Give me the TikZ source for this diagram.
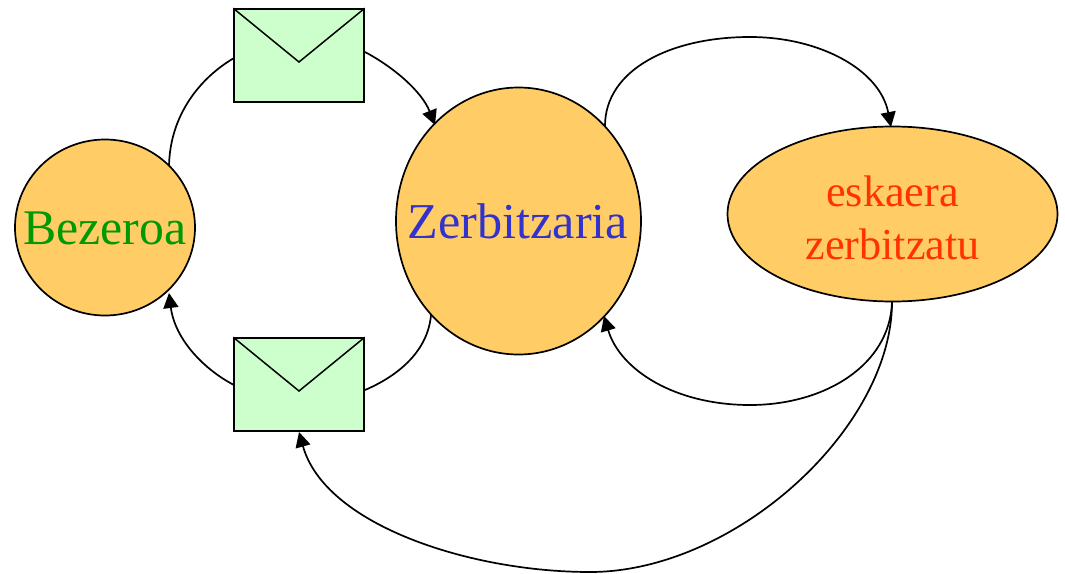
\documentclass[tikz,border=0pt]{standalone}
\usepackage{fontspec}
\setmainfont{Liberation Serif}
\usetikzlibrary{shapes.geometric,arrows.meta}
\definecolor{orangefill}{HTML}{FFCC66}
\definecolor{greenfill}{HTML}{CCFFCC}
\definecolor{greentxt}{HTML}{009900}
\definecolor{bluetxt}{HTML}{3333CC}
\definecolor{redtxt}{HTML}{FF3300}
\tikzset{
 x=1pt,y=-1pt,
 proc/.style={ellipse,draw=black,fill=orangefill,line width=1.7pt,inner sep=0pt,align=center},
 env/.style={rectangle,draw=black,fill=greenfill,line width=1.5pt,minimum width=130pt,minimum height=93pt,inner sep=0pt},
 flap/.style={draw=black,line width=1.5pt},
 conn/.style={draw=black,line width=1.7pt,-{Triangle[length=15pt,width=15pt]}},
 plain/.style={draw=black,line width=1.7pt}
}
\begin{document}
\begin{tikzpicture}
\useasboundingbox (0,0) rectangle (1065,573);
\coordinate (a1) at (169,166);
\coordinate (a2) at (234,58);
\coordinate (b1) at (365,52);
\coordinate (b2) at (435,125);
\coordinate (c1) at (431,315);
\coordinate (c2) at (365,390);
\coordinate (d1) at (234,385);
\coordinate (d2) at (169,293);
\coordinate (e1) at (605,126);
\coordinate (e2) at (891,127);
\coordinate (f1) at (892,302);
\coordinate (f2) at (604,316);
\coordinate (g2) at (299,432);
\draw[plain] (a1) .. controls (170,115) and (200,78) .. (a2);
\draw[conn] (b1) .. controls (395,68) and (422,92) .. (b2);
\draw[plain] (c1) .. controls (428,350) and (400,375) .. (c2);
\draw[conn] (d1) .. controls (205,370) and (175,340) .. (d2);
\draw[conn] (e1) .. controls (605,70) and (670,37) .. (750,37) .. controls (820,37) and (880,70) .. (e2);
\draw[conn] (f1) .. controls (890,365) and (825,405) .. (750,405) .. controls (675,405) and (620,370) .. (f2);
\draw[conn] (f1) .. controls (892,428) and (735,572) .. (590,572) .. controls (470,572) and (325,525) .. (g2);
\node[proc,minimum width=180pt,minimum height=176pt] (bez) at (105,227.5) {};
\node[font=\fontsize{49.8}{52}\selectfont,text=greentxt] (bezt) at (105,228) {Bezeroa};
\node[proc,minimum width=245pt,minimum height=267pt] (zer) at (518.5,221) {};
\node[font=\fontsize{50.2}{52}\selectfont,text=bluetxt] (zert) at (518,221) {Zerbitzaria};
\node[proc,minimum width=330pt,minimum height=175pt] (esk) at (892.5,214) {};
\node[font=\fontsize{44.2}{44}\selectfont,text=redtxt] (eskt1) at (892.5,191) {eskaera};
\node[font=\fontsize{44.2}{44}\selectfont,text=redtxt] (eskt2) at (892.5,244) {zerbitzatu};
\node[env] (m1) at (299,55.5) {};
\draw[flap] (m1.north west) -- (299,62) -- (m1.north east);
\node[env] (m2) at (299,384.5) {};
\draw[flap] (m2.north west) -- (299,391) -- (m2.north east);
\end{tikzpicture}
\end{document}
